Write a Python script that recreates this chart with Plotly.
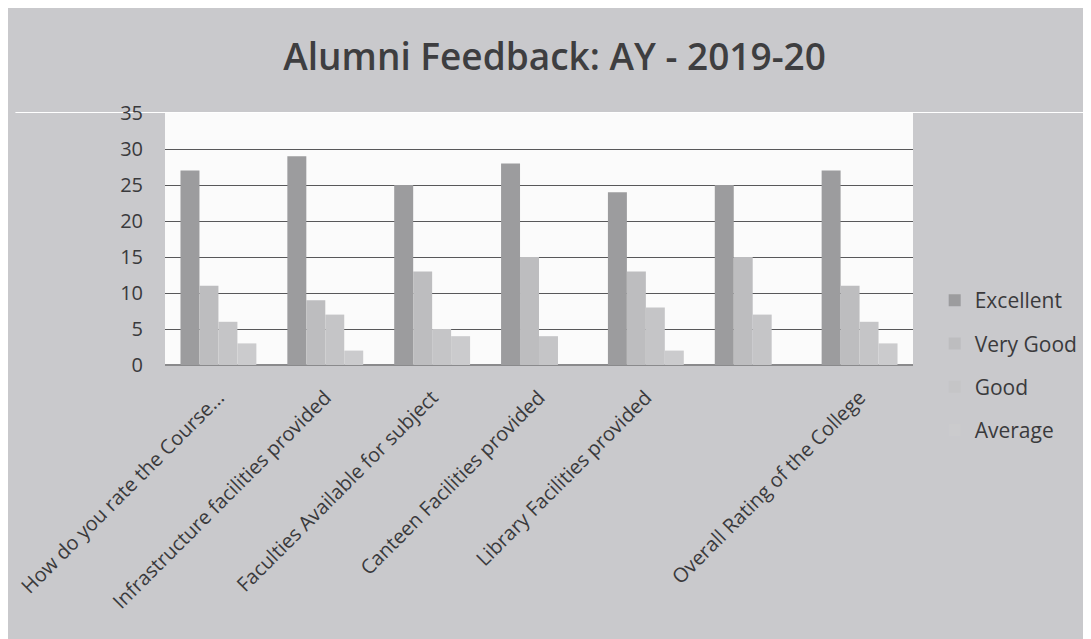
import plotly.graph_objects as go

categories = [
    "How do you rate the Course...",
    "Infrastructure facilities provided",
    "Faculties Available for subject",
    "Canteen Facilities provided",
    "Library Facilities provided",
    "",
    "Overall Rating of the College",
]
excellent = [27, 29, 25, 28, 24, 25, 27]
very_good = [11, 9, 13, 15, 13, 15, 11]
good = [6, 7, 5, 4, 8, 7, 6]
average = [3, 2, 4, 0, 2, 0, 3]

series_names = ["Excellent", "Very Good", "Good", "Average"]
series_values = [excellent, very_good, good, average]
colors = ["#9c9c9e", "#bdbdbf", "#c5c5c7", "#cbcbcd"]

xpos = list(range(len(categories)))

fig = go.Figure()
for name, vals, col in zip(series_names, series_values, colors):
    fig.add_trace(go.Bar(
        x=xpos, y=vals, name=name, marker_color=col,
        marker_line_width=0, legendgroup=name,
    ))

font_fam = "Open Sans, Noto Sans, sans-serif"
fig.update_layout(
    width=1091, height=639,
    barmode="group", bargap=0.29, bargroupgap=0,
    paper_bgcolor="#c9c9cc", plot_bgcolor="#fbfbfb",
    margin=dict(l=157, r=186, t=105, b=282, autoexpand=False),
    title=dict(text="Alumni Feedback: AY - 2019-20", x=0.501, xanchor="center",
               y=1 - 49 / 639, yanchor="middle", yref="container",
               font=dict(family=font_fam, size=37, color="#3e3e40", weight=600)),
    font=dict(family=font_fam, color="#3a3a3c"),
    showlegend=True,
    legend=dict(x=1.029, xanchor="left", y=0.337, yanchor="top",
                bgcolor="rgba(0,0,0,0)", font=dict(size=21, color="#3a3a3c"),
                traceorder="grouped", tracegroupgap=13, itemwidth=30),
    xaxis=dict(tickmode="array", tickvals=xpos, ticktext=categories,
               tickangle=-45, tickfont=dict(size=20, color="#3a3a3c"),
               ticklabeloverflow="allow", automargin=False,
               showgrid=False, showline=False, range=[-0.5, 6.5],
               ticks="outside", ticklen=12, tickcolor="rgba(0,0,0,0)"),
    yaxis=dict(range=[0, 35], dtick=5, tickfont=dict(size=20, color="#3a3a3c"),
               automargin=False,
               showgrid=True, gridcolor="#58585a", gridwidth=1,
               zeroline=True, zerolinecolor="#8a8a8c", showline=False,
               ticks="outside", ticklen=17, tickcolor="rgba(0,0,0,0)"),
)
fig.add_shape(type="rect", xref="paper", yref="paper", x0=-0.2, x1=1.3,
              y0=1.0, y1=1.004, line_width=0, fillcolor="#ffffff", layer="below")

fig.write_html("out.html")
